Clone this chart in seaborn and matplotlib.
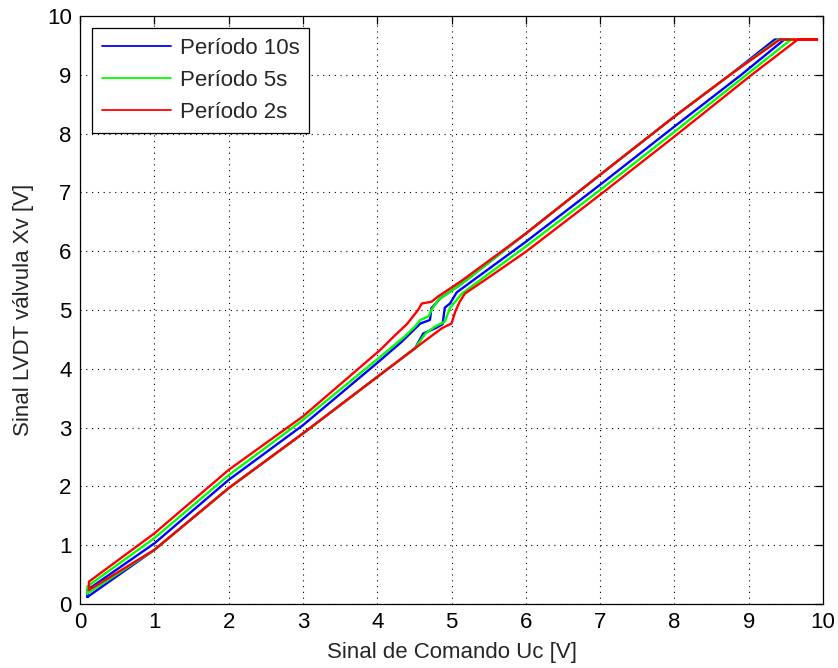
import matplotlib
matplotlib.use("Agg")
import matplotlib.pyplot as plt
import seaborn as sns
import pandas as pd

# ---- data (loops) ----
labels = ["Período 10s", "Período 5s", "Período 2s"]
colors = ["#0000ff", "#00ff00", "#ff0000"]

x_10s = [0.10, 1.0, 2.0, 3.0, 4.04, 4.51, 4.62, 4.80, 4.88, 4.91, 4.98, 5.07, 6.0, 7.0, 8.0, 8.90, 9.48, 9.55,
         9.35, 8.77, 8.0, 7.0, 6.0, 5.14, 4.85, 4.73, 4.71, 4.58, 4.33, 4.0, 3.0, 2.0, 1.0, 0.10, 0.10]
y_10s = [0.12, 0.92, 1.97, 2.90, 3.90, 4.35, 4.60, 4.70, 4.76, 5.04, 5.11, 5.30, 6.16, 7.13, 8.12, 9.00, 9.60, 9.60,
         9.60, 9.02, 8.29, 7.30, 6.30, 5.45, 5.20, 5.03, 4.83, 4.77, 4.46, 4.10, 3.04, 2.11, 1.03, 0.24, 0.12]

x_5s = [0.10, 1.0, 2.0, 3.0, 4.04, 4.51, 4.65, 4.78, 4.91, 4.98, 5.05, 5.14, 6.0, 7.0, 8.0, 8.97, 9.57, 9.62,
        9.40, 8.77, 8.0, 7.0, 6.0, 5.14, 4.82, 4.73, 4.69, 4.58, 4.51, 4.37, 4.0, 3.0, 2.0, 1.0, 0.10, 0.10]
y_5s = [0.18, 0.92, 1.97, 2.90, 3.90, 4.35, 4.60, 4.72, 4.80, 5.04, 5.14, 5.28, 6.08, 7.04, 8.03, 9.00, 9.60, 9.60,
        9.60, 9.02, 8.29, 7.30, 6.30, 5.45, 5.17, 5.00, 4.89, 4.83, 4.72, 4.55, 4.16, 3.13, 2.19, 1.12, 0.30, 0.18]

x_2s = [0.12, 1.0, 2.0, 3.0, 4.04, 4.51, 4.69, 4.87, 5.00, 5.05, 5.11, 5.18, 5.45, 6.0, 7.0, 8.0, 9.04, 9.66, 9.92,
        9.42, 8.77, 8.0, 7.0, 6.0, 5.14, 4.82, 4.73, 4.60, 4.55, 4.40, 4.24, 4.04, 3.0, 2.0, 1.0, 0.12, 0.12]
y_2s = [0.24, 0.92, 1.97, 2.90, 3.90, 4.35, 4.52, 4.69, 4.77, 4.97, 5.14, 5.28, 5.51, 5.99, 6.96, 7.95, 9.00, 9.60, 9.60,
        9.60, 9.02, 8.29, 7.30, 6.30, 5.50, 5.23, 5.14, 5.11, 5.00, 4.76, 4.57, 4.32, 3.19, 2.28, 1.20, 0.38, 0.24]

series_x = [x_10s, x_5s, x_2s]
series_y = [y_10s, y_5s, y_2s]

x_ticks = list(range(0, 11))
y_ticks = list(range(0, 11))
x_label = "Sinal de Comando Uc [V]"
y_label = "Sinal LVDT válvula Xv [V]"

# ---- style ----
sns.set_style("white")
plt.rcParams['font.family'] = ['Liberation Sans', 'DejaVu Sans']
plt.rcParams['font.size'] = 16

fig = plt.figure(figsize=(8.38, 6.68), dpi=100)
ax = fig.add_axes([80 / 838, 64 / 668, 743 / 838, 588 / 668])

for xs, ys, lab, col in zip(series_x, series_y, labels, colors):
    df = pd.DataFrame({"x": xs, "y": ys})
    sns.lineplot(data=df, x="x", y="y", sort=False, estimator=None,
                 color=col, linewidth=1.7, label=lab, ax=ax)

ax.set_xlim(0, 10)
ax.set_ylim(0, 10)
ax.set_xticks(x_ticks)
ax.set_yticks(y_ticks)
ax.set_xticklabels([str(t) for t in x_ticks])
ax.set_yticklabels([str(t) for t in y_ticks])
ax.set_xlabel(x_label, fontsize=16, labelpad=6)
ax.set_ylabel(y_label, fontsize=16, labelpad=9)

ax.grid(True, color="black", linestyle=(0, (1, 4.2)), linewidth=0.8)
ax.tick_params(direction="in", length=6, width=0.9, top=True, right=True,
               labelsize=16, pad=6, colors="black")
for s in ax.spines.values():
    s.set_visible(True)
    s.set_color("black")
    s.set_linewidth(0.9)

leg = ax.legend(loc="upper left", bbox_to_anchor=(0.016, 0.98), borderaxespad=0,
                frameon=True, fancybox=False, framealpha=1, edgecolor="black",
                fontsize=16, handlelength=3.1, labelspacing=0.5, borderpad=0.45,
                handletextpad=0.4)
leg.get_frame().set_linewidth(0.9)
for line in leg.get_lines():
    line.set_linewidth(1.3)

fig.savefig("out.png", dpi=100)
